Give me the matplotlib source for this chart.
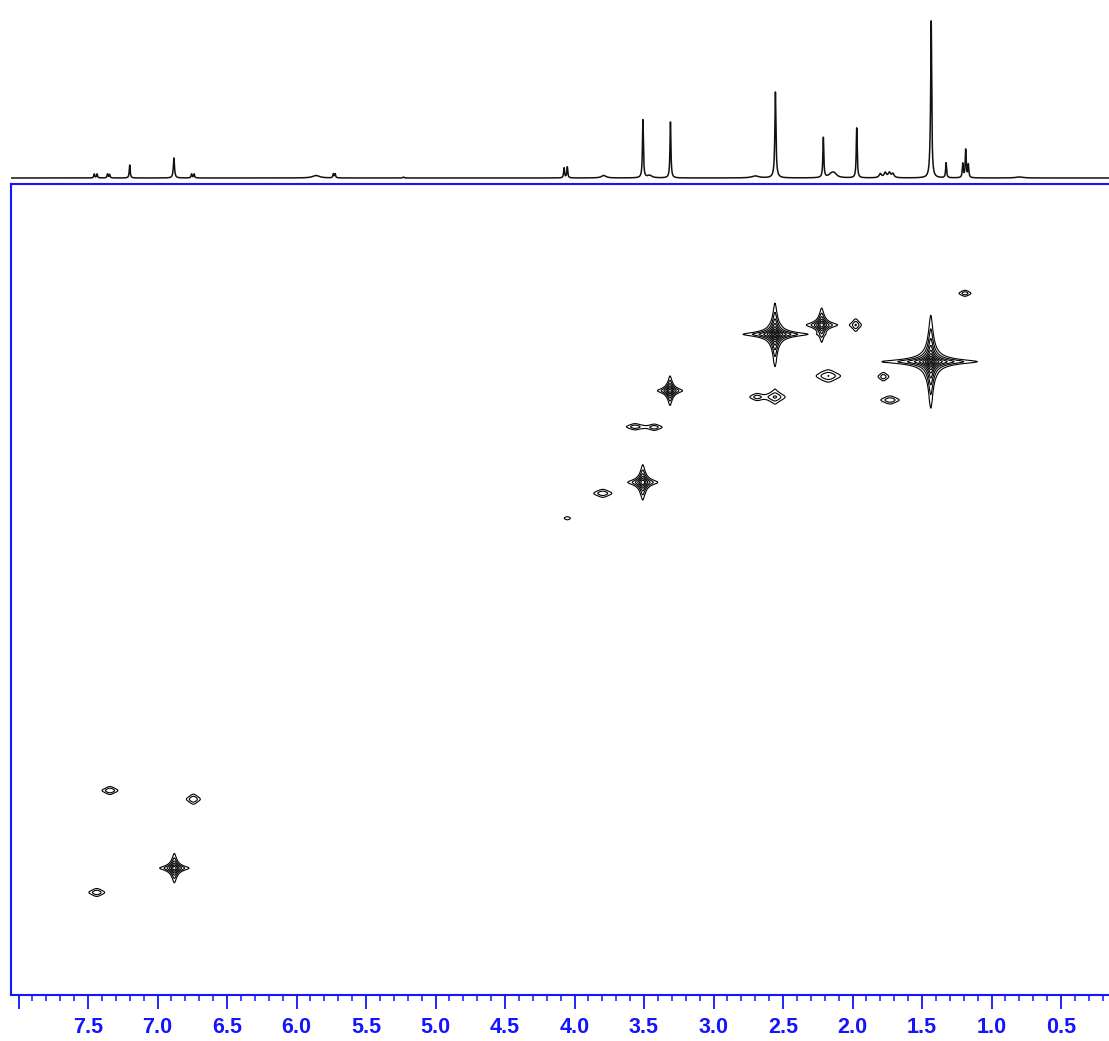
import numpy as np
import matplotlib.pyplot as plt

# 1H trace (top projection): peak position (ppm), height (px), half width (ppm)
h1_ppm = [7.455, 7.435, 7.360, 7.345, 7.200, 6.882, 6.755, 6.737, 5.860, 5.735,
          5.722, 5.230, 4.075, 4.052, 3.790, 3.508, 3.460, 3.310, 2.700, 2.555,
          2.555, 2.210, 2.150, 2.130, 1.970, 1.800, 1.765, 1.735, 1.710, 1.440,
          1.434, 1.327, 1.207, 1.186, 1.167, 0.800]
h1_height = [4, 4, 4, 3.5, 13, 20, 4, 4, 2.5, 4,
             4, 1, 10, 11, 2.5, 58, 2.5, 56, 2, 16,
             70, 40, 4, 3, 50, 4, 5, 5, 4, 16,
             148, 15, 14, 28, 13, 1]
h1_width = [0.004, 0.004, 0.004, 0.004, 0.004, 0.005, 0.004, 0.004, 0.03, 0.004,
            0.004, 0.005, 0.004, 0.004, 0.02, 0.004, 0.02, 0.004, 0.03, 0.008,
            0.004, 0.004, 0.025, 0.02, 0.004, 0.01, 0.01, 0.01, 0.01, 0.007,
            0.004, 0.004, 0.004, 0.004, 0.004, 0.03]

# 2D cross peaks: 1H shift, F1 shift, intensity (in base contour units), widths
pk_h = [2.558, 2.222, 1.977, 1.191, 1.437, 2.174, 1.778, 2.558, 2.687, 1.730,
        3.313, 3.565, 3.426, 3.509, 3.797, 4.052, 7.342, 6.742, 6.879, 7.437]
pk_c = [25.95, 24.34, 24.34, 18.87, 30.67, 33.14, 33.26, 36.77, 36.77, 37.29,
        35.68, 41.90, 42.00, 51.50, 53.40, 57.70, 104.7, 106.2, 118.1, 122.3]
pk_amp = [300, 60, 4, 3, 600, 4, 3, 4, 2.5, 3.5,
          50, 3, 3, 60, 3.5, 1.8, 4, 4, 55, 3.5]
pk_wh = [0.0133, 0.0140, 0.0209, 0.0302, 0.0137, 0.0496, 0.0252, 0.0396, 0.0360, 0.0410,
         0.0129, 0.0410, 0.0360, 0.0140, 0.0410, 0.0245, 0.0331, 0.0288, 0.0144, 0.0360]
pk_wc = [0.311, 0.380, 0.604, 0.363, 0.328, 0.604, 0.483, 0.604, 0.432, 0.432,
         0.363, 0.363, 0.363, 0.397, 0.432, 0.293, 0.397, 0.500, 0.345, 0.432]

major_ticks = [8.0, 7.5, 7.0, 6.5, 6.0, 5.5, 5.0, 4.5, 4.0, 3.5, 3.0, 2.5, 2.0, 1.5, 1.0, 0.5]
major_labels = ['', '7.5', '7.0', '6.5', '6.0', '5.5', '5.0', '4.5', '4.0', '3.5',
                '3.0', '2.5', '2.0', '1.5', '1.0', '0.5']

xlim = (8.054, 0.155)
ylim = (140, 0)
blue = '#1414ff'

W, H = 1109, 1041
fig = plt.figure(figsize=(W / 100, H / 100), dpi=100)

# main 2D panel
ax = fig.add_axes([11 / W, (H - 995) / H, 1 - 11 / W, 811 / H])
x = np.linspace(xlim[0], xlim[1], 2400)
y = np.linspace(0, 140, 1700)
ph = np.array(pk_h)[:, None]
pc = np.array(pk_c)[:, None]
Lx = 1 / (1 + ((x[None, :] - ph) / np.array(pk_wh)[:, None]) ** 2)
Ly = 1 / (1 + ((y[None, :] - pc) / np.array(pk_wc)[:, None]) ** 2)
Z = Ly.T @ (np.array(pk_amp)[:, None] * Lx)
levels = 1.0 * 2.0 ** np.arange(11)
ax.contour(x, y, Z, levels=levels, colors='black', linewidths=0.8)
ax.set_xlim(xlim)
ax.set_ylim(ylim)
ax.set_yticks([])
ax.set_xticks(major_ticks)
ax.set_xticklabels(major_labels)
ax.set_xticks(np.arange(8.0, 0.15, -0.1), minor=True)
ax.tick_params(axis='x', which='major', length=10, width=1.3, color=blue, pad=6,
               labelcolor=blue, labelsize=15.5)
ax.tick_params(axis='x', which='minor', length=4, width=1.1, color=blue)
for lab in ax.get_xticklabels():
    lab.set_fontweight('bold')
    lab.set_family('Liberation Sans')
for s in ['left', 'top', 'bottom']:
    ax.spines[s].set_color(blue)
    ax.spines[s].set_linewidth(1.5)
ax.spines['right'].set_visible(False)

# 1D projection on top
ax1 = fig.add_axes([11 / W, (H - 183) / H, 1 - 11 / W, 183 / H])
xs = np.linspace(xlim[0], xlim[1], 20000)
trace = np.zeros_like(xs)
for p, hgt, w in zip(h1_ppm, h1_height, h1_width):
    trace += hgt / (1 + ((xs - p) / w) ** 2)
ax1.plot(xs, trace, color='#111111', lw=1.1)
ax1.set_xlim(xlim)
ax1.set_ylim(-5, 178)
ax1.axis('off')

fig.savefig('out.png', dpi=100)
